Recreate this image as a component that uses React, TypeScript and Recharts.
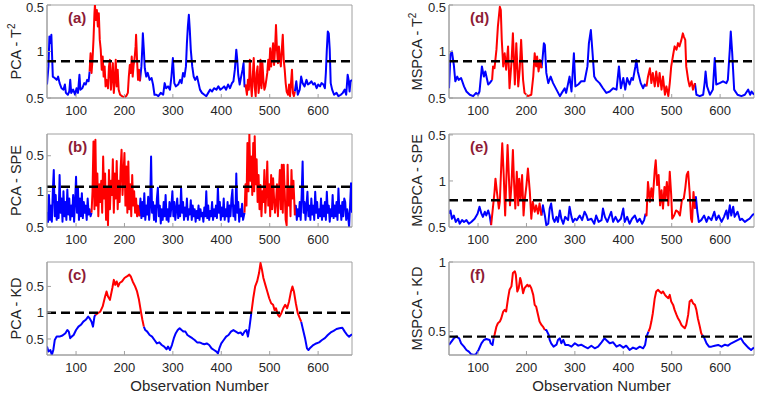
import React from 'react';
import { LineChart, Line, XAxis, YAxis, ReferenceLine, ReferenceArea, Label, Customized } from 'recharts';

const FONT = '"Liberation Sans", Arial, Helvetica, sans-serif';

// Shared x axis
const observationTicks = [100, 200, 300, 400, 500, 600];
const observationDomain: [number, number] = [40, 670];

type Pt = [number, number]; // [observation, statistic]

// (a) PCA - T^2
const pcaT2: Pt[] = [[40,0.29],[43,0.68],[45,1.32],[47,1.18],[49,1.36],[52,0.46],[56,0.43],[60,0.39],[63,0.46],[66,0.32],[70,0.21],[74,0.18],[77,0.29],[79,0.11],[83,0.07],[86,0.14],[88,0.39],[90,0.11],[94,0.18],[98,0.07],[101,0.21],[104,0.11],[107,0.5],[109,0.18],[113,0.21],[117,0.32],[120,0.29],[123,0.39],[126,0.36],[128,0.57],
[130,0.96],[132,0.54],[134,0.82],[136,1.25],[138,1.82],[139,2.0],[141,1.68],[143,1.89],[145,1.54],[147,1.82],[149,1.25],[151,1.04],[153,0.61],[155,0.89],[157,0.46],[159,0.68],[161,0.25],[163,0.39],[166,0.21],[168,0.68],[170,0.82],[172,0.18],[174,0.46],[176,0.75],[178,0.11],[180,0.39],[182,0.82],[184,0.25],[186,0.61],[188,0.18],[191,0.07],[195,0.04],[200,0.01],[204,0.05],[207,0.11],[209,0.46],[211,0.71],[213,0.54],[215,0.89],[217,0.46],[219,0.71],[221,0.86],[223,1.11],[224,1.36],[226,0.82],[228,0.39],[230,0.61],[232,0.36],
[235,0.68],[237,1.11],[238,1.39],[240,1.04],[242,0.64],[245,0.46],[248,0.54],[252,0.39],[256,0.43],[259,0.29],[262,0.07],[266,0.07],[270,0.04],[275,0.11],[280,0.07],[283,0.32],[286,0.21],[290,0.25],[294,0.18],[297,0.46],[300,0.86],[303,0.32],[306,0.25],[311,0.29],[315,0.39],[318,0.32],[321,0.54],[324,0.46],[327,0.68],[329,1.18],[331,1.54],[333,1.79],[335,1.46],[337,1.04],[340,0.68],[343,0.46],[346,0.39],[350,0.46],[353,0.32],[356,0.18],[360,0.11],[365,0.07],[369,0.04],[373,0.11],[377,0.18],[381,0.14],[385,0.21],[390,0.18],[394,0.25],[398,0.18],[402,0.21],[406,0.25],[410,0.18],[414,0.29],[418,0.21],[422,0.32],[425,0.36],[428,0.61],[431,1.04],[433,0.82],[435,0.5],[438,0.29],[441,0.46],[444,0.61],[446,0.75],[448,0.25],[450,0.29],
[453,0.07],[455,0.39],[457,0.18],[459,0.82],[461,0.32],[463,0.04],[465,0.46],[467,0.86],[469,0.25],[471,0.04],[473,0.54],[475,0.68],[477,0.11],[479,0.32],[481,0.82],[483,0.21],[485,0.75],[487,0.39],[489,0.18],[491,0.25],[493,0.39],[495,0.54],[497,0.82],[499,0.61],[501,1.07],[503,0.68],[505,0.93],[507,1.18],[509,0.71],[511,1.04],[513,1.57],[515,1.04],[517,0.75],[519,1.11],[521,0.86],[523,0.68],[525,1.04],[527,1.36],[529,0.82],[531,0.61],[533,0.32],[535,0.14],[538,0.07],[540,0.29],[542,0.04],[544,0.32],[546,0.61],[548,0.11],[550,0.04],[552,0.14],
[555,0.36],[558,0.07],[562,0.18],[565,0.46],[568,0.32],[572,0.25],[576,0.39],[579,0.29],[583,0.32],[586,0.36],[590,0.29],[593,0.32],[597,0.21],[600,0.29],[604,0.25],[607,0.32],[611,0.29],[614,0.21],[616,0.54],[618,1.04],[620,1.43],[622,1.39],[624,1.04],[626,0.32],[629,0.18],[633,0.07],[638,0.11],[642,0.04],[647,0.07],[651,0.11],[655,0.18],[658,0.07],[661,0.5],[663,0.39],[665,0.14],[667,0.36],[670,0.39]];
const pcaT2Faults: Pt[] = [[128, 232], [450, 552]];

// (b) PCA - SPE
const pcaSPE: Pt[] = [[40,0.42],[42,0.14],[44,0.9],[46,0.2],[48,0.6],[50,0.15],[52,1.0],[54,1.6],[56,0.3],[58,0.9],[60,0.2],[62,0.7],[64,0.25],[66,1.46],[68,0.4],[70,0.8],[72,0.15],[74,1.0],[76,0.3],[78,0.7],[80,0.2],[82,1.05],[84,0.35],[86,0.8],[88,0.2],[90,0.6],[92,0.3],[94,0.9],[96,0.15],[98,0.7],[100,1.41],[102,0.4],[104,1.1],[106,0.2],[108,0.8],[110,0.3],[112,0.95],[114,0.25],[116,0.7],[118,0.4],[120,0.6],[122,0.2],[124,0.8],[126,0.35],[128,0.5],[130,0.3],[132,0.4],
[134,1.0],[136,2.4],[138,0.5],[140,2.45],[142,0.6],[144,1.5],[146,0.3],[148,1.2],[150,0.7],[152,1.3],[154,0.4],[156,1.98],[158,0.8],[160,1.5],[162,0.2],[164,1.1],[166,0.05],[168,1.6],[170,0.5],[172,1.3],[174,0.9],[176,1.9],[178,0.4],[180,1.5],[182,0.8],[184,1.85],[186,0.5],[188,1.3],[190,0.7],[192,1.6],[194,2.17],[196,0.9],[198,1.5],[200,2.08],[202,0.6],[204,1.7],[206,0.4],[208,1.84],[210,0.5],[212,1.2],[214,0.3],[216,1.46],[218,0.6],[220,1.0],[222,0.4],[224,0.8],[226,0.3],[228,0.6],[231,0.3],
[233,0.8],[235,0.25],[237,0.7],[239,0.3],[241,0.95],[243,0.2],[245,0.6],[247,0.35],[249,0.85],[251,0.2],[253,0.6],[255,1.98],[257,0.4],[259,0.7],[261,0.2],[263,0.6],[265,0.15],[267,0.8],[269,1.1],[271,0.3],[273,0.6],[275,0.1],[277,0.5],[279,0.2],[281,0.7],[283,0.3],[285,0.9],[287,0.2],[289,0.5],[291,0.15],[293,0.7],[295,0.3],[297,0.6],[299,1.0],[301,0.3],[303,0.7],[305,0.2],[307,0.5],[309,0.8],[311,0.25],[313,0.6],[315,0.3],[317,1.1],[319,0.4],[321,0.7],[323,0.2],[325,0.55],[327,0.3],[329,0.8],[331,0.2],[333,0.5],[335,0.35],[337,0.75],[339,0.2],[341,0.6],[343,0.3],[345,0.5],[347,0.15],[349,0.45],[351,0.25],[353,0.6],[355,0.2],[357,0.5],[359,0.3],[361,0.4],[363,0.15],[365,0.55],[367,0.3],[369,1.0],[371,0.25],[373,0.6],[375,0.2],[377,0.45],[379,0.3],[381,0.7],[383,0.2],[385,0.5],[387,0.3],[389,0.6],[391,0.25],[393,1.12],[395,0.4],[397,0.7],[399,0.2],[401,0.55],[403,0.3],[405,0.8],[407,0.2],[409,0.5],[411,0.3],[413,0.7],[415,0.15],[417,0.6],[419,0.3],[421,0.8],[423,1.05],[425,0.3],[427,0.6],[429,0.2],[431,1.5],[433,0.4],[435,0.7],[437,0.15],[439,0.5],[441,0.3],[443,0.65],[445,0.2],[448,0.4],
[450,1.2],[452,0.6],[454,2.36],[456,1.0],[458,2.61],[460,1.3],[462,1.98],[464,0.9],[466,2.36],[468,1.0],[469,2.55],[471,1.2],[473,1.9],[475,0.7],[477,1.46],[479,0.5],[481,1.18],[483,0.3],[485,1.0],[487,0.7],[489,1.6],[491,0.4],[493,1.0],[495,1.84],[497,0.6],[499,1.2],[501,0.3],[503,1.46],[505,0.5],[507,1.37],[509,0.8],[511,0.4],[513,0.71],[515,1.2],[517,0.3],[519,1.0],[521,1.6],[523,0.5],[525,1.75],[527,0.4],[529,1.75],[531,0.99],[533,0.2],[535,0.05],[537,1.75],[539,0.6],[541,1.1],[543,0.3],[545,1.6],[547,0.8],[549,1.3],[552,0.33],
[554,0.6],[556,0.2],[558,0.5],[560,0.3],[562,0.7],[564,0.2],[566,0.9],[568,1.84],[570,0.4],[572,0.7],[574,0.2],[576,0.6],[578,0.99],[580,0.3],[582,0.6],[584,0.2],[586,0.8],[588,0.35],[590,0.6],[592,0.2],[594,0.99],[596,0.4],[598,0.7],[600,0.25],[602,0.5],[604,0.3],[606,0.8],[608,0.2],[610,0.6],[612,0.3],[614,0.7],[616,0.2],[618,0.99],[620,0.4],[622,0.6],[624,0.15],[626,0.5],[628,0.3],[630,0.9],[632,0.25],[634,0.6],[636,0.3],[638,0.7],[640,0.2],[642,1.08],[644,0.4],[646,0.6],[648,0.2],[650,0.7],[652,0.3],[654,0.8],[656,0.7],[658,0.2],[660,0.5],[662,0.3],[664,0.0],[666,0.6],[668,1.23],[670,0.4]];
const pcaSPEFaults: Pt[] = [[132, 231], [448, 552]];

// (c) PCA - KD
const pcaKD: Pt[] = [[40,-0.29],[43,-0.48],[47,-0.42],[50,-0.61],[53,-0.42],[56,-0.04],[60,0.09],[66,0.09],[72,0.13],[78,0.22],[82,0.34],[85,0.28],[88,0.03],[91,0.09],[95,0.15],[100,0.34],[105,0.47],[110,0.54],[115,0.66],[120,0.73],[125,0.85],[128,0.79],[132,0.66],[135,0.47],[138,0.85],[140,0.92],
[145,0.98],[150,1.04],[155,1.24],[160,1.62],[163,1.81],[166,1.62],[170,1.49],[175,1.94],[178,2.25],[181,2.06],[184,2.19],[187,2.0],[190,2.13],[195,2.19],[200,2.32],[205,2.38],[210,2.45],[213,2.38],[217,2.19],[222,2.0],[226,1.81],[230,1.49],[234,1.04],[237,0.73],[240,0.47],
[243,0.34],[247,0.28],[252,0.15],[257,0.09],[262,-0.04],[267,-0.17],[272,-0.13],[277,-0.23],[282,-0.29],[287,-0.39],[290,-0.29],[294,-0.42],[298,-0.23],[302,0.03],[306,0.22],[310,0.34],[314,0.41],[318,0.34],[322,0.28],[326,0.28],[330,0.15],[335,0.09],[340,0.03],[345,-0.04],[350,-0.13],[355,-0.13],[360,-0.17],[365,-0.2],[370,-0.17],[375,-0.23],[380,-0.36],[385,-0.42],[390,-0.48],[393,-0.55],[396,-0.36],[400,-0.17],[405,-0.04],[410,0.09],[415,0.15],[420,0.28],[425,0.34],[430,0.28],[435,0.22],[440,0.25],[444,0.15],[448,0.28],[452,0.34],[455,0.09],[458,0.41],[462,0.98],
[466,1.55],[470,2.0],[474,2.19],[478,2.51],[481,2.89],[484,2.64],[487,2.32],[491,2.06],[495,1.81],[499,1.55],[503,1.36],[507,1.3],[510,1.1],[513,1.17],[517,0.92],[520,0.85],[524,0.98],[528,1.17],[532,1.3],[536,1.17],[540,1.43],[544,1.81],[547,2.0],[550,1.81],[554,1.36],[558,0.98],[562,0.79],[565,0.66],
[569,0.34],[573,0.03],[577,-0.36],[580,-0.42],[584,-0.33],[590,-0.23],[596,-0.17],[602,-0.13],[608,-0.04],[614,0.03],[620,0.15],[626,0.25],[632,0.31],[638,0.38],[644,0.41],[650,0.43],[655,0.28],[660,0.15],[664,0.09],[668,0.15],[670,0.18]];
const pcaKDFaults: Pt[] = [[140, 240], [462, 565]];

// (d) MSPCA - T^2
const mspcaT2: Pt[] = [[40,0.21],[43,0.93],[46,1.0],[50,0.71],[53,0.36],[57,0.46],[60,0.39],[65,0.43],[71,0.25],[76,0.14],[83,0.07],[90,0.04],[96,0.11],[100,0.07],[103,0.14],[108,0.68],[112,0.46],[115,0.57],[121,0.29],[124,0.32],[129,0.39],
[131,0.68],[134,0.64],[138,1.04],[141,1.54],[145,1.96],[147,1.89],[149,1.25],[152,0.68],[155,0.96],[158,0.61],[162,1.11],[165,0.21],[169,0.75],[172,1.39],[176,0.29],[179,1.18],[183,0.25],[186,0.61],[189,1.25],[193,0.39],[196,0.11],[203,0.04],[210,0.07],[214,0.46],[217,0.96],[220,0.68],[222,0.89],[225,0.57],[228,0.82],[231,0.64],
[233,0.82],[236,1.18],[238,1.14],[241,0.54],[245,0.32],[250,0.46],[255,0.32],[262,0.18],[269,0.04],[273,0.11],[279,0.21],[282,0.11],[289,0.46],[293,0.14],[298,0.96],[301,0.25],[307,0.29],[313,0.36],[320,0.36],[326,0.68],[329,1.18],[333,1.46],[336,1.04],[340,0.46],[344,0.39],[351,0.32],[358,0.21],[365,0.11],[372,0.14],[379,0.21],[386,0.18],[391,0.68],[395,0.21],[400,0.43],[404,0.18],[408,0.43],[413,0.29],[417,0.43],[420,0.39],[425,0.68],[427,0.82],[430,0.57],[436,0.32],[441,0.21],[444,0.29],[448,0.25],
[451,0.46],[455,0.64],[458,0.32],[461,0.54],[465,0.25],[468,0.57],[472,0.25],[475,0.54],[479,0.18],[482,0.46],[486,0.07],[489,0.25],[493,0.04],[496,0.32],[499,0.68],[503,0.93],[506,1.11],[510,1.04],[513,1.18],[516,1.11],[520,1.25],[523,1.39],[525,1.32],[528,1.25],[530,0.68],[534,0.39],[537,0.25],[541,0.36],[544,0.18],[548,0.32],
[551,0.07],[558,0.04],[565,0.07],[568,0.32],[570,0.57],[573,0.25],[579,0.07],[585,0.18],[589,0.86],[592,0.29],[599,0.32],[606,0.36],[613,0.32],[616,0.39],[620,1.04],[622,1.43],[625,0.96],[629,0.18],[636,0.07],[644,0.04],[651,0.07],[658,0.18],[662,0.07],[665,0.14],[670,0.07]];
const mspcaT2Faults: Pt[] = [[129, 231], [448, 548]];

// (e) MSPCA - SPE
const mspcaSPE: Pt[] = [[40,0.29],[43,0.36],[46,0.18],[50,0.25],[54,0.11],[59,0.18],[62,0.07],[67,0.15],[71,0.11],[76,0.15],[81,0.07],[86,0.11],[93,0.18],[99,0.29],[103,0.44],[107,0.29],[110,0.22],[114,0.33],[117,0.25],[121,0.36],[124,0.25],[127,0.04],
[132,0.55],[134,0.76],[136,1.05],[139,0.76],[143,0.4],[145,0.55],[148,1.35],[150,1.82],[153,1.13],[156,0.25],[158,0.91],[161,1.78],[163,1.27],[166,0.47],[169,0.91],[172,1.67],[174,1.05],[177,0.4],[180,1.2],[183,0.47],[185,1.05],[188,0.62],[191,1.13],[194,0.25],[196,0.55],[200,0.91],[203,1.27],[207,0.76],[210,0.18],[213,0.55],[217,0.33],[220,0.47],[224,0.29],[227,0.51],[231,0.25],
[234,0.47],[238,0.25],[241,0.04],[245,0.07],[248,0.4],[251,0.51],[255,0.18],[258,0.11],[262,0.22],[265,0.11],[269,0.36],[272,0.18],[276,0.07],[280,0.22],[286,0.15],[289,0.44],[293,0.22],[296,0.11],[300,0.18],[304,0.15],[310,0.25],[315,0.15],[320,0.33],[324,0.25],[327,0.15],[334,0.18],[340,0.07],[344,0.25],[349,0.11],[355,0.15],[358,0.4],[362,0.22],[367,0.11],[372,0.25],[375,0.33],[379,0.11],[384,0.22],[389,0.11],[395,0.18],[400,0.4],[403,0.11],[408,0.22],[413,0.07],[418,0.18],[424,0.25],[429,0.11],[434,0.18],[439,0.07],[443,0.15],[446,0.29],
[448,0.25],[451,0.98],[455,0.55],[458,0.84],[461,0.62],[465,1.24],[467,1.45],[470,0.91],[473,1.13],[476,0.47],[479,0.8],[482,0.4],[485,0.87],[487,0.62],[490,0.98],[493,0.47],[496,1.2],[499,0.69],[501,0.18],[505,0.25],[509,0.36],[513,0.33],[517,0.25],[521,0.58],[525,0.62],[528,0.84],[531,1.13],[534,1.2],[537,0.76],[540,0.18],[542,0.11],[545,0.76],[548,0.4],
[550,0.65],[553,0.33],[556,0.11],[561,0.15],[567,0.25],[572,0.11],[576,0.22],[582,0.15],[588,0.33],[592,0.15],[597,0.25],[603,0.11],[608,0.22],[613,0.36],[616,0.18],[620,0.47],[623,0.25],[627,0.44],[630,0.22],[636,0.33],[641,0.15],[645,0.18],[651,0.11],[656,0.15],[661,0.18],[666,0.25],[670,0.29]];
const mspcaSPEFaults: Pt[] = [[127, 231], [446, 548]];

// (f) MSPCA - KD
const mspcaKD: Pt[] = [[40,0.404],[45,0.428],[50,0.452],[55,0.464],[61,0.452],[65,0.416],[71,0.392],[76,0.368],[81,0.356],[86,0.337],[92,0.332],[96,0.339],[101,0.368],[107,0.416],[112,0.44],[117,0.447],[124,0.44],[126,0.416],[130,0.404],[132,0.452],
[134,0.476],[138,0.536],[141,0.56],[145,0.572],[148,0.596],[152,0.644],[155,0.656],[158,0.644],[162,0.74],[165,0.8],[169,0.825],[172,0.921],[176,0.933],[178,0.909],[181,0.788],[184,0.812],[187,0.885],[189,0.861],[193,0.776],[196,0.812],[199,0.825],[202,0.837],[204,0.825],[207,0.832],[210,0.812],[214,0.764],[217,0.692],[220,0.68],[224,0.62],[227,0.572],[231,0.548],[234,0.536],[238,0.512],
[241,0.512],[246,0.476],[248,0.44],[251,0.416],[256,0.392],[262,0.406],[265,0.44],[269,0.452],[272,0.416],[276,0.44],[280,0.404],[286,0.404],[293,0.392],[300,0.416],[307,0.399],[313,0.406],[320,0.392],[327,0.38],[334,0.399],[341,0.38],[348,0.392],[355,0.423],[361,0.452],[367,0.433],[372,0.416],[379,0.423],[386,0.392],[393,0.404],[400,0.385],[406,0.399],[413,0.368],[420,0.385],[427,0.375],[434,0.392],[441,0.38],[445,0.404],[448,0.464],[452,0.5],
[455,0.524],[458,0.572],[461,0.632],[465,0.74],[468,0.788],[472,0.8],[475,0.788],[479,0.776],[482,0.788],[486,0.764],[489,0.752],[493,0.74],[496,0.764],[499,0.716],[503,0.692],[506,0.656],[510,0.62],[513,0.596],[517,0.572],[520,0.548],[523,0.536],[527,0.524],[530,0.548],[534,0.62],[537,0.716],[541,0.728],[544,0.704],[548,0.692],[551,0.656],[554,0.596],[558,0.536],[561,0.488],[563,0.476],
[567,0.457],[572,0.416],[577,0.392],[582,0.392],[589,0.399],[596,0.404],[603,0.392],[610,0.406],[616,0.399],[623,0.416],[630,0.428],[637,0.44],[643,0.452],[648,0.423],[653,0.404],[658,0.385],[664,0.368],[668,0.38],[670,0.385]];
const mspcaKDFaults: Pt[] = [[132, 238], [452, 563]];

// Y tick positions and the labels printed at them
const t2TickValues = [0, 1, 2];
const t2TickLabels = ['0.5', '1', '0.5'];
const speTickValues = [0, 1, 2];
const speTickLabels = ['0.5', '1', '0.5'];
const kdTickValues = [0, 1, 2];
const kdTickLabels = ['0.5', '1', '0.5'];
const mspcaKDTickValues = [0.5, 1];
const mspcaKDTickLabels = ['0.5', '1'];

interface PanelSpec {
  points: Pt[];
  faults: Pt[];
  domain: [number, number];
  tickValues: number[];
  tickLabels: string[];
  threshold: number;
  yLabel: string;
  ySup?: string;
  tag: string;
}

const panelA: PanelSpec = { points: pcaT2, faults: pcaT2Faults, domain: [0, 2.0], tickValues: t2TickValues, tickLabels: t2TickLabels, threshold: 0.79, yLabel: 'PCA - T', ySup: '2', tag: '(a)' };
const panelB: PanelSpec = { points: pcaSPE, faults: pcaSPEFaults, domain: [0, 2.61], tickValues: speTickValues, tickLabels: speTickLabels, threshold: 1.13, yLabel: 'PCA - SPE', tag: '(b)' };
const panelC: PanelSpec = { points: pcaKD, faults: pcaKDFaults, domain: [-0.61, 2.93], tickValues: kdTickValues, tickLabels: kdTickLabels, threshold: 1.0, yLabel: 'PCA - KD', tag: '(c)' };
const panelD: PanelSpec = { points: mspcaT2, faults: mspcaT2Faults, domain: [0, 2.0], tickValues: t2TickValues, tickLabels: t2TickLabels, threshold: 0.79, yLabel: 'MSPCA - T', ySup: '2', tag: '(d)' };
const panelE: PanelSpec = { points: mspcaSPE, faults: mspcaSPEFaults, domain: [0, 2.02], tickValues: speTickValues, tickLabels: speTickLabels, threshold: 0.58, yLabel: 'MSPCA - SPE', tag: '(e)' };
const panelF: PanelSpec = { points: mspcaKD, faults: mspcaKDFaults, domain: [0.332, 1], tickValues: mspcaKDTickValues, tickLabels: mspcaKDTickLabels, threshold: 0.464, yLabel: 'MSPCA - KD', tag: '(f)' };

function buildRows(points: Pt[], faults: Pt[]) {
  return points.map(([x, y]) => {
    const inFault = faults.some(([lo, hi]) => x >= lo && x <= hi);
    const edge = faults.some(([lo, hi]) => x === lo || x === hi);
    return { x, normal: !inFault || edge ? y : null, fault: inFault ? y : null };
  });
}

const TEXT = '#262626';
const AXIS = '#a0a0a0';
const TAG = '#8e1b36';

function Panel({ spec, left, top, width, yWidth, rightMargin, showXLabel, topPad }: { spec: PanelSpec; left: number; top: number; width: number; yWidth: number; rightMargin: number; showXLabel: boolean; topPad: number }) {
  const rows = buildRows(spec.points, spec.faults);
  const xHeight = showXLabel ? 40 : 24;
  const height = topPad + 93 + xHeight;
  const yLabelContent = (props: any) => {
    const vb = props.viewBox || { x: 0, y: topPad, width: yWidth, height: 93 };
    const cx = vb.x + 21;
    const cy = vb.y + vb.height / 2;
    return (
      <text x={cx} y={cy} transform={`rotate(-90, ${cx}, ${cy})`} textAnchor="middle" fill={TEXT} fontSize={14.5} fontFamily={FONT}>
        <tspan>{spec.yLabel}</tspan>
        {spec.ySup ? <tspan dy={-6} fontSize={10}>{spec.ySup}</tspan> : null}
      </text>
    );
  };
  const xLabelContent = (props: any) => {
    const vb = props.viewBox || { x: yWidth, y: topPad + 93, width: 305, height: xHeight };
    return (
      <text x={vb.x + vb.width / 2} y={vb.y + 36} textAnchor="middle" fill={TEXT} fontSize={15} fontFamily={FONT}>
        Observation Number
      </text>
    );
  };
  const yTick = (props: any) => {
    const v = props.payload?.value;
    const label = spec.tickLabels[spec.tickValues.indexOf(v)] ?? String(v);
    const y = Math.max(props.y, 7.5);
    return (
      <text x={props.x} y={y} dy="0.355em" textAnchor="end" fill={TEXT} fontSize={13} fontFamily={FONT}>
        {label}
      </text>
    );
  };
  const TagText = () => (
    <text x={yWidth + 21} y={topPad + 18} fill={TAG} fontSize={15} fontWeight="bold" fontFamily={FONT}>
      {spec.tag}
    </text>
  );
  return (
    <div style={{ position: 'absolute', left, top }}>
      <LineChart width={width} height={height} data={rows} margin={{ top: topPad, right: rightMargin, bottom: 0, left: 0 }}>
        <XAxis
          type="number"
          dataKey="x"
          domain={observationDomain}
          ticks={observationTicks}
          interval={0}
          allowDataOverflow
          height={xHeight}
          stroke={AXIS}
          tickSize={-4}
          tickMargin={12}
          tick={{ fill: TEXT, fontSize: 13, fontFamily: FONT }}
        >
          {showXLabel ? <Label content={xLabelContent} /> : null}
        </XAxis>
        <YAxis
          type="number"
          domain={spec.domain}
          ticks={spec.tickValues}
          interval={0}
          allowDataOverflow
          width={yWidth}
          stroke={AXIS}
          tickSize={-4}
          tickMargin={7}
          tick={yTick}
        >
          <Label content={yLabelContent} />
        </YAxis>
        <ReferenceArea x1={observationDomain[0]} x2={observationDomain[1]} y1={spec.domain[0]} y2={spec.domain[1]} fill="none" fillOpacity={0} stroke={AXIS} strokeWidth={1} />
        <Line type="linear" dataKey="normal" stroke="#0000ff" strokeWidth={2} dot={false} activeDot={false} isAnimationActive={false} connectNulls={false} strokeLinejoin="round" />
        <Line type="linear" dataKey="fault" stroke="#ff0000" strokeWidth={2} dot={false} activeDot={false} isAnimationActive={false} connectNulls={false} strokeLinejoin="round" />
        <ReferenceLine y={spec.threshold} stroke="#000000" strokeWidth={2.4} strokeDasharray="9 5" />
        <Customized component={TagText} />
      </LineChart>
    </div>
  );
}

export default function App() {
  return (
    <div style={{ position: 'absolute', left: 0, top: 0, width: 757, height: 394, background: '#ffffff', overflow: 'hidden' }}>
      <style>{'svg.recharts-surface{overflow:visible}'}</style>
      <Panel spec={panelA} left={0} top={0} width={360} yWidth={47} rightMargin={8} showXLabel={false} topPad={5} />
      <Panel spec={panelB} left={0} top={124} width={360} yWidth={47} rightMargin={8} showXLabel={false} topPad={10} />
      <Panel spec={panelC} left={0} top={252} width={360} yWidth={47} rightMargin={8} showXLabel={true} topPad={10} />
      <Panel spec={panelD} left={401} top={0} width={356} yWidth={48} rightMargin={3} showXLabel={false} topPad={5} />
      <Panel spec={panelE} left={401} top={124} width={356} yWidth={48} rightMargin={3} showXLabel={false} topPad={10} />
      <Panel spec={panelF} left={401} top={252} width={356} yWidth={48} rightMargin={3} showXLabel={true} topPad={10} />
    </div>
  );
}
